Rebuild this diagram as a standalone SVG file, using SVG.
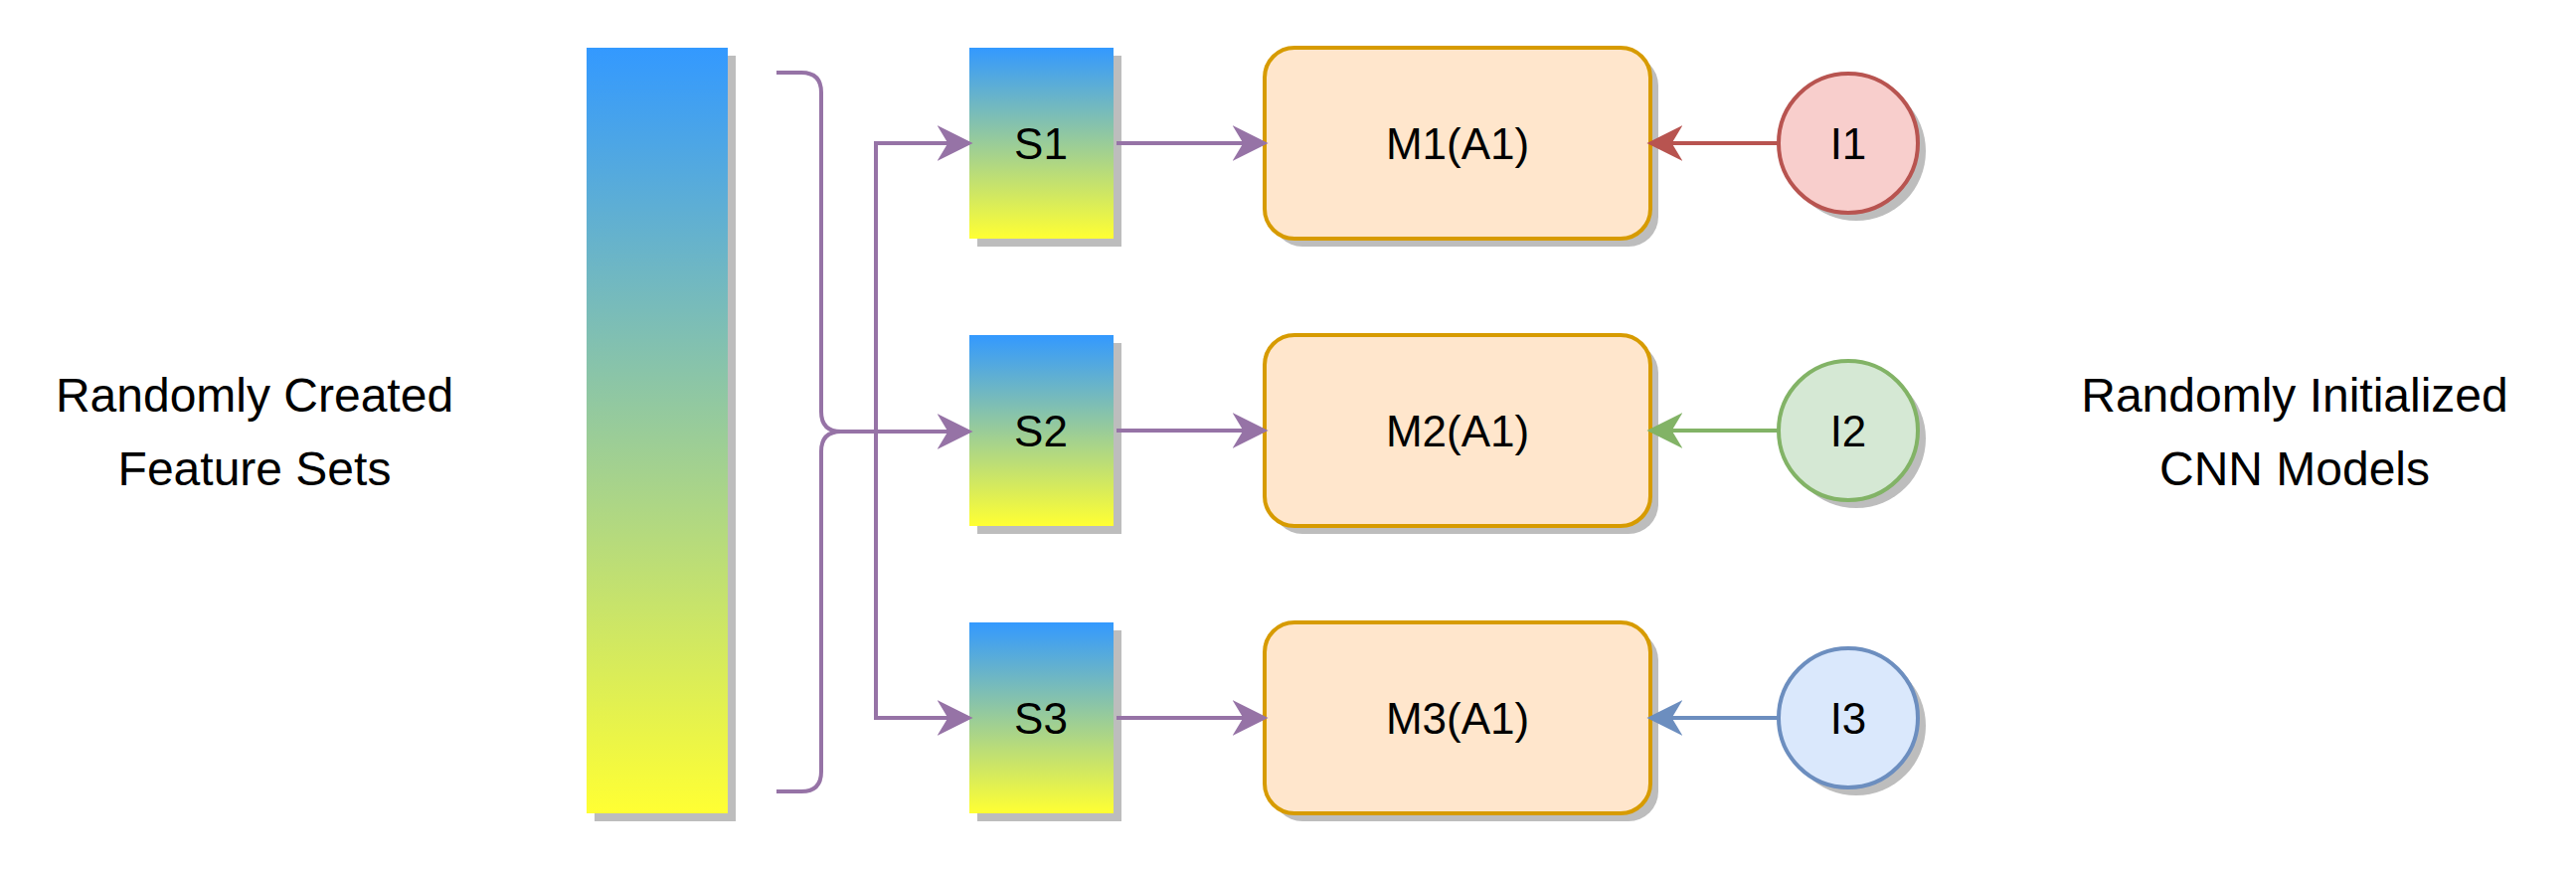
<svg xmlns="http://www.w3.org/2000/svg" width="2591" height="876" viewBox="0 0 2591 876">
<defs>
<linearGradient id="g" x1="0" y1="0" x2="0" y2="1"><stop offset="0" stop-color="#3399FF"/><stop offset="1" stop-color="#FFFF33"/></linearGradient>
<marker id="ap" markerWidth="10" markerHeight="10" refX="9" refY="5" orient="auto" markerUnits="userSpaceOnUse" viewBox="0 0 10 10"><path d="M0,0 L10,5 L0,10 L3,5 Z" fill="#9673A6"/></marker>
<marker id="ar" viewBox="0 0 10 10" refX="9" refY="5" markerWidth="36" markerHeight="36" markerUnits="userSpaceOnUse" orient="auto"><path d="M0,0 L10,5 L0,10 L3,5 Z" fill="#b85450"/></marker>
<marker id="ag" viewBox="0 0 10 10" refX="9" refY="5" markerWidth="36" markerHeight="36" markerUnits="userSpaceOnUse" orient="auto"><path d="M0,0 L10,5 L0,10 L3,5 Z" fill="#82b366"/></marker>
<marker id="ab" viewBox="0 0 10 10" refX="9" refY="5" markerWidth="36" markerHeight="36" markerUnits="userSpaceOnUse" orient="auto"><path d="M0,0 L10,5 L0,10 L3,5 Z" fill="#6c8ebf"/></marker>
<marker id="apu" viewBox="0 0 10 10" refX="9" refY="5" markerWidth="36" markerHeight="36" markerUnits="userSpaceOnUse" orient="auto"><path d="M0,0 L10,5 L0,10 L3,5 Z" fill="#9673A6"/></marker>
</defs>
<style>
text{font-family:"Liberation Sans",Arial,sans-serif;fill:#000;text-anchor:middle;dominant-baseline:central}
.lbl{font-size:48px}
.n{font-size:44px}
.sh{fill:#bdbdbd}
.c{fill:none;stroke-width:4}
.p{stroke:#9673A6}
</style>
<g id="bar"><rect class="sh" x="598" y="56" width="142" height="770"/><rect x="590" y="48" width="142" height="770" fill="url(#g)"/></g>
<g id="textL"><text class="lbl" x="256" y="397">Randomly Created</text><text class="lbl" x="256" y="471">Feature Sets</text></g>
<g id="textR"><text class="lbl" x="2308" y="397">Randomly Initialized</text><text class="lbl" x="2308" y="471">CNN Models</text></g>
<g id="S1"><rect class="sh" x="983" y="56" width="145" height="192"/><rect x="975" y="48" width="145" height="192" fill="url(#g)"/><text class="n" x="1047" y="144">S1</text></g>
<g id="S2"><rect class="sh" x="983" y="345" width="145" height="192"/><rect x="975" y="337" width="145" height="192" fill="url(#g)"/><text class="n" x="1047" y="433">S2</text></g>
<g id="S3"><rect class="sh" x="983" y="634" width="145" height="192"/><rect x="975" y="626" width="145" height="192" fill="url(#g)"/><text class="n" x="1047" y="722">S3</text></g>
<g id="M1"><rect class="sh" x="1280" y="56" width="388" height="192" rx="30"/><rect x="1272" y="48" width="388" height="192" rx="30" fill="#ffe6cc" stroke="#d79b00" stroke-width="4"/><text class="n" x="1466" y="144">M1(A1)</text></g>
<g id="M2"><rect class="sh" x="1280" y="345" width="388" height="192" rx="30"/><rect x="1272" y="337" width="388" height="192" rx="30" fill="#ffe6cc" stroke="#d79b00" stroke-width="4"/><text class="n" x="1466" y="433">M2(A1)</text></g>
<g id="M3"><rect class="sh" x="1280" y="634" width="388" height="192" rx="30"/><rect x="1272" y="626" width="388" height="192" rx="30" fill="#ffe6cc" stroke="#d79b00" stroke-width="4"/><text class="n" x="1466" y="722">M3(A1)</text></g>
<g id="I1"><circle class="sh" cx="1867" cy="152" r="70"/><circle cx="1859" cy="144" r="70" fill="#f8cecc" stroke="#b85450" stroke-width="4"/><text class="n" x="1859" y="144">I1</text></g>
<g id="I2"><circle class="sh" cx="1867" cy="441" r="70"/><circle cx="1859" cy="433" r="70" fill="#d5e8d4" stroke="#82b366" stroke-width="4"/><text class="n" x="1859" y="433">I2</text></g>
<g id="I3"><circle class="sh" cx="1867" cy="730" r="70"/><circle cx="1859" cy="722" r="70" fill="#dae8fc" stroke="#6c8ebf" stroke-width="4"/><text class="n" x="1859" y="722">I3</text></g>
<g id="connectors">
<path class="c p" d="M781,73 H806 Q826,73 826,93 V414 Q826,434 846,434 M846,434 Q826,434 826,454 V776 Q826,796 806,796 H781"/>
<path class="c p" d="M846,434 H975" marker-end="url(#apu)"/>
<path class="c p" d="M881,707 V144 H975" marker-end="url(#apu)"/>
<path class="c p" d="M881,434 V722 H975" marker-end="url(#apu)"/>
<path class="c p" d="M1123,144 H1272" marker-end="url(#apu)"/>
<path class="c p" d="M1123,433 H1272" marker-end="url(#apu)"/>
<path class="c p" d="M1123,722 H1272" marker-end="url(#apu)"/>
<path class="c" stroke="#b85450" d="M1789,144 H1660" marker-end="url(#ar)"/>
<path class="c" stroke="#82b366" d="M1789,433 H1660" marker-end="url(#ag)"/>
<path class="c" stroke="#6c8ebf" d="M1789,722 H1660" marker-end="url(#ab)"/>
</g>
</svg>
